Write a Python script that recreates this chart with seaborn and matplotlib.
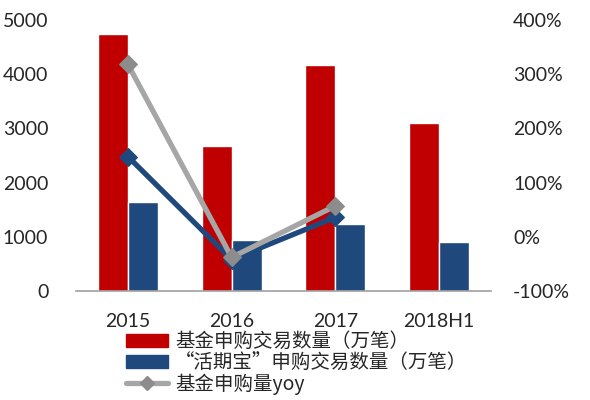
import numpy as np
import pandas as pd
import matplotlib
matplotlib.use("Agg")
import matplotlib.pyplot as plt
import seaborn as sns
from matplotlib.lines import Line2D
from matplotlib.patches import Patch
from matplotlib.ticker import FuncFormatter

# données
years = ["2015", "2016", "2017", "2018H1"]
fund_count = [4740, 2670, 4170, 3100]      # 基金申购交易数量（万笔）
hqb_count = [1640, 940, 1230, 900]         # “活期宝”申购交易数量（万笔）
fund_yoy = [3.18, -0.38, 0.57]             # 基金申购量yoy
hqb_yoy = [1.48, -0.42, 0.36]              # 活期宝 yoy
series_names = ["基金申购交易数量（万笔）", "“活期宝”申购交易数量（万笔）", "基金申购量yoy"]

RED = "#C00000"
BLUE = "#1F497D"
GREY = "#A6A6A6"

sns.set_style("white")
plt.rcParams["font.family"] = ["Lato", "DejaVu Sans"]

df = pd.DataFrame({
    "year": years * 2,
    "value": fund_count + hqb_count,
    "serie": [series_names[0]] * 4 + [series_names[1]] * 4,
})

fig = plt.figure(figsize=(5.9, 4.0), dpi=100)
ax = fig.add_axes([0.129, 0.2725, 0.703, 0.6775])

sns.barplot(data=df, x="year", y="value", hue="serie", order=years,
            palette=[RED, BLUE], width=0.58, gap=0, saturation=1,
            legend=False, ax=ax)
ax.set_xlim(-0.5, 3.5)
ax.set_ylim(0, 5000)
ax.set_yticks(range(0, 5001, 1000))
ax.set_xlabel("")
ax.set_ylabel("")
for s in ["left", "right", "top"]:
    ax.spines[s].set_visible(False)
ax.spines["bottom"].set_color("#A0A0A0")
ax.spines["bottom"].set_linewidth(1.2)
ax.tick_params(axis="x", which="major", length=0, labelsize=14, pad=16)
ax.set_xticks(np.arange(-0.5, 4, 1), minor=True)
ax.tick_params(axis="x", which="minor", length=7, width=1.2, color="#A0A0A0", direction="out")
ax.tick_params(axis="y", length=0, labelsize=14, pad=20)

ax2 = ax.twinx()
xpos = np.arange(len(fund_yoy))
sns.lineplot(x=xpos, y=hqb_yoy, ax=ax2, color=BLUE, lw=3.8, marker="D",
             markersize=9, markeredgecolor=BLUE, zorder=3)
sns.lineplot(x=xpos, y=fund_yoy, ax=ax2, color=GREY, lw=3.8, marker="D",
             markersize=9, markerfacecolor="#8C8C8C", markeredgecolor="#8C8C8C", zorder=4)
ax2.set_ylim(-1, 4)
ax2.set_yticks(np.arange(-1, 4.01, 1))
ax2.yaxis.set_major_formatter(FuncFormatter(lambda v, p: f"{v * 100:.0f}%"))
ax2.tick_params(axis="y", length=0, labelsize=14, pad=16)
for s in ["left", "right", "top", "bottom"]:
    ax2.spines[s].set_visible(False)
ax2.set_xlim(-0.5, 3.5)

handles = [
    Patch(facecolor=RED, edgecolor=RED),
    Patch(facecolor=BLUE, edgecolor=BLUE),
    Line2D([0], [0], color=GREY, lw=3.8, marker="D", markersize=7,
           markerfacecolor="#8C8C8C", markeredgecolor="#8C8C8C"),
]
fig.legend(handles, series_names, loc="upper left", bbox_to_anchor=(0.213, 0.172),
           frameon=False, handlelength=2.2, handleheight=0.7, handletextpad=0.35,
           labelspacing=0.0, borderaxespad=0, borderpad=0,
           prop={"family": ["Noto Sans CJK SC", "DejaVu Sans"], "size": 14})

fig.savefig("out.png", dpi=100)
